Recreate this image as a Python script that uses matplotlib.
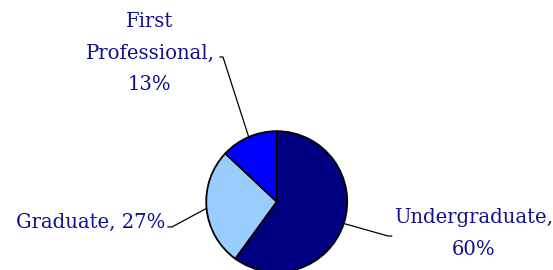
import numpy as np
import matplotlib
matplotlib.use("Agg")
import matplotlib.pyplot as plt

# degree level shares (%)
levels = ['Undergraduate', 'Graduate', 'First\nProfessional']
shares = [60, 27, 13]
colors = ['#000080', '#99CCFF', '#0000FF']

txt_color = '#10108a'
font = dict(family='DejaVu Serif', size=14.1, color=txt_color)

fig = plt.figure(figsize=(5.53, 2.70), dpi=100)
ax = fig.add_axes([0, 0, 1, 1])

wedges, _ = ax.pie(shares, colors=colors, startangle=90, counterclock=False,
                   wedgeprops=dict(edgecolor='black', linewidth=1.3))

ax.set_aspect('equal')
ax.set_xlim(-3.925, 3.919)
ax.set_ylim(-0.969, 2.861)
ax.axis('off')

# label placement: (text x, text y, ha, elbow points of the leader line)
layout = [
    (2.79, -0.45, 'center', [(1.58, -0.487), (1.63, -0.487)]),
    (-1.58, -0.30, 'right', [(-1.485, -0.358), (-1.542, -0.358)]),
    (-1.80, 2.11, 'center', [(-0.762, 2.052), (-0.805, 2.052)]),
]

for w, name, pct, (tx, ty, ha, elbow) in zip(wedges, levels, shares, layout):
    mid = np.deg2rad((w.theta1 + w.theta2) / 2)
    start = (np.cos(mid), np.sin(mid))
    pts = [start] + elbow
    ax.plot([p[0] for p in pts], [p[1] for p in pts], color='black', lw=0.9)
    if name == 'Graduate':
        label = f'{name}, {pct}%'
    else:
        label = f'{name},\n{pct}%'
    ax.text(tx, ty, label, ha=ha, va='center', multialignment='center',
            linespacing=1.85, **font)

fig.savefig('out.png', dpi=100)
